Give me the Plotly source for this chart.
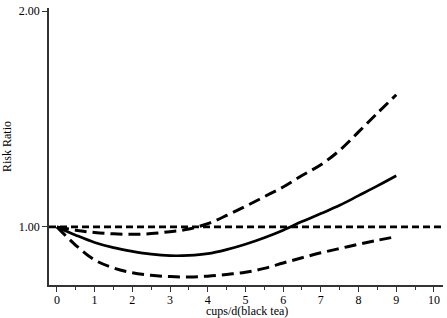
import plotly.graph_objects as go

cups = [0, 0.5, 1, 1.5, 2, 2.5, 3, 3.5, 4, 4.5, 5, 5.5, 6, 6.5, 7, 7.5, 8, 8.5, 9]
rr = [1.0, 0.962, 0.928, 0.904, 0.887, 0.874, 0.867, 0.868, 0.876, 0.895, 0.92, 0.95,
      0.985, 1.025, 1.062, 1.10, 1.145, 1.19, 1.237]
upper = [1.0, 0.985, 0.974, 0.968, 0.966, 0.969, 0.978, 0.99, 1.015, 1.053, 1.095, 1.14,
         1.185, 1.238, 1.288, 1.355, 1.44, 1.527, 1.612]
lower = [1.0, 0.915, 0.847, 0.81, 0.788, 0.776, 0.77, 0.768, 0.772, 0.78, 0.79, 0.808,
         0.833, 0.857, 0.88, 0.90, 0.92, 0.938, 0.955]
ref_x = [-0.21, 10.24]
ref_y = [1.0, 1.0]

x_ticks = [0, 1, 2, 3, 4, 5, 6, 7, 8, 9, 10]
y_ticks = [1.0, 2.0]
y_tick_labels = ["1.00", "2.00"]
x_title = "cups/d(black tea)"
y_title = "Risk Ratio"

font = "Liberation Serif, Times New Roman, serif"
W, H = 447, 318
L, R, T, B = 49, 4, 8, 33

fig = go.Figure()
fig.add_trace(go.Scatter(x=ref_x, y=ref_y, mode="lines",
                         line=dict(color="black", width=2.7, dash="7px,4px")))
fig.add_trace(go.Scatter(x=cups, y=upper, mode="lines",
                         line=dict(color="black", width=3, dash="12px,6px", shape="spline")))
fig.add_trace(go.Scatter(x=cups, y=lower, mode="lines",
                         line=dict(color="black", width=3, dash="12px,6px", shape="spline")))
fig.add_trace(go.Scatter(x=cups, y=rr, mode="lines",
                         line=dict(color="black", width=2.7, shape="spline")))

pw = W - L - R
ph = H - T - B
fig.add_annotation(text=x_title, xref="paper", yref="paper",
                   x=(247 - L) / pw, y=-(311 - (H - B)) / ph,
                   xanchor="center", yanchor="middle", showarrow=False, borderpad=0,
                   font=dict(family=font, size=12, color="black"))
fig.add_annotation(text=y_title, xref="paper", yref="paper", textangle=-90,
                   x=-(L - 7) / pw, y=1 - (147 - T) / ph,
                   xanchor="center", yanchor="middle", showarrow=False,
                   font=dict(family=font, size=12, color="black"))

fig.update_layout(
    width=W, height=H,
    margin=dict(l=L, r=R, t=T, b=B, autoexpand=False),
    paper_bgcolor="white", plot_bgcolor="white",
    showlegend=False,
    font=dict(family=font, size=12, color="black"),
    xaxis=dict(range=[-0.21, 10.24], tickvals=x_ticks, ticks="outside", ticklen=5,
               tickwidth=1.2, tickcolor="#333", showline=True, linecolor="#333",
               linewidth=1.5, showgrid=False, zeroline=False, automargin=False,
               ticklabelstandoff=-2,
               tickfont=dict(family=font, size=12),
               minor=dict(dtick=0.5, tick0=0, ticks="outside", ticklen=3,
                          tickcolor="#333", showgrid=False)),
    yaxis=dict(range=[0.731, 2.014], tickvals=y_ticks, ticktext=y_tick_labels,
               ticks="outside", ticklen=5, tickwidth=1.2, tickcolor="#333",
               showline=True, linecolor="#333", linewidth=1.5, showgrid=False,
               zeroline=False, automargin=False,
               tickfont=dict(family=font, size=12)),
)

fig.write_html("out.html", config={"displayModeBar": False},
               post_script="document.body.style.margin='0';document.body.style.overflow='hidden';")
